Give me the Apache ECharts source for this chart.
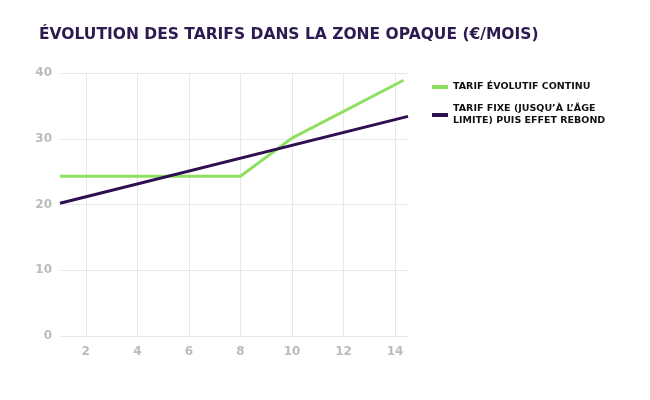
<!DOCTYPE html><html><head><meta charset="utf-8"><script src="https://cdn.jsdelivr.net/npm/echarts@6/dist/echarts.min.js"></script></head><body style="margin:0"><div id="c" style="width:650px;height:400px"></div><script>
const title='ÉVOLUTION DES TARIFS DANS LA ZONE OPAQUE (€/MOIS)';
const seriesNames=['TARIF ÉVOLUTIF CONTINU','TARIF FIXE (JUSQU’À L’ÂGE\nLIMITE) PUIS EFFET REBOND'];
const xTicks=[2,4,6,8,10,12,14];
const greenData=[[1,24.3],[8,24.3],[10,30.1],[14.33,38.9]];
const purpleData=[[1,20.2],[14.5,33.4]];
const c=echarts.init(document.getElementById('c'));
c.setOption({
title:{text:title,left:34,top:22,textStyle:{fontFamily:'DejaVu Sans',fontWeight:'bold',fontSize:15.5,color:'#2d1a4f'}},
legend:{orient:'vertical',left:427,top:76,itemWidth:16,itemHeight:4,itemGap:10,icon:'rect',
 textStyle:{fontFamily:'DejaVu Sans',fontWeight:'bold',fontSize:9.5,color:'#111',lineHeight:12}},
grid:{left:60,right:242,top:73,bottom:64},
xAxis:{type:'value',min:1,max:14.5,interval:2,axisLine:{show:false},axisTick:{show:false,customValues:xTicks},
 axisLabel:{color:'#bbb',fontWeight:'bold',fontFamily:'DejaVu Sans',fontSize:12,margin:10,customValues:xTicks},
 splitLine:{lineStyle:{color:'#e8e8e8'}}},
yAxis:{type:'value',min:0,max:40,interval:10,axisLine:{show:false},axisTick:{show:false},
 axisLabel:{color:'#bbb',fontWeight:'bold',fontFamily:'DejaVu Sans',fontSize:12},splitLine:{lineStyle:{color:'#e8e8e8'}}},
series:[
{name:seriesNames[0],type:'line',data:greenData,symbol:'none',lineStyle:{width:3,color:'#8fe060'},itemStyle:{color:'#8fe060'}},
{name:seriesNames[1],type:'line',data:purpleData,symbol:'none',lineStyle:{width:3,color:'#2d1050'},itemStyle:{color:'#2d1050'}}
]});
</script></body></html>
